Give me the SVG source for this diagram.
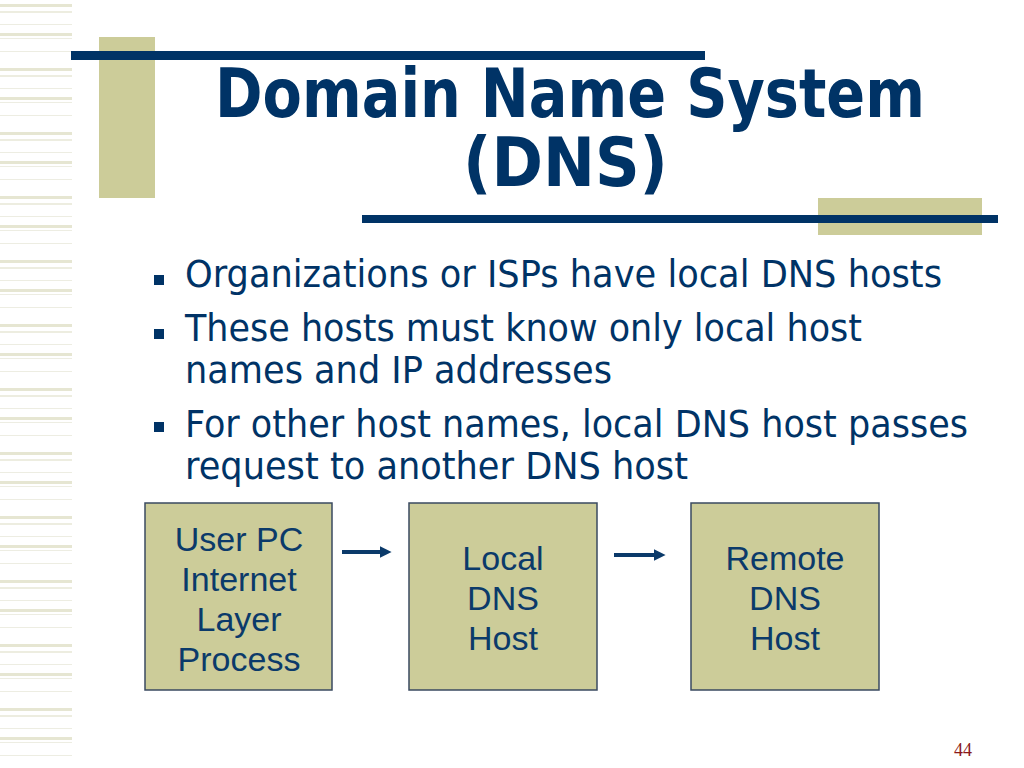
<svg xmlns="http://www.w3.org/2000/svg" width="1024" height="768" viewBox="0 0 1024 768">
<defs>
<pattern id="stripes" x="0" y="0" width="72" height="64" patternUnits="userSpaceOnUse">
<rect x="0" y="4" width="72" height="3" fill="#E6E6D2"/>
<rect x="0" y="11" width="72" height="2" fill="#EDEDE0"/>
<rect x="0" y="24" width="72" height="1" fill="#EDEDE2"/>
<rect x="0" y="33" width="72" height="3" fill="#E6E6D2"/>
<rect x="0" y="38" width="72" height="1" fill="#EDEDE2"/>
<rect x="0" y="51" width="72" height="1" fill="#EDEDE2"/>
</pattern>
<marker id="ah" viewBox="0 0 10 10" refX="2" refY="5" markerWidth="3" markerHeight="3" orient="auto" markerUnits="strokeWidth">
<path d="M0,0 L10,5 L0,10 z" fill="#0B3A6A"/>
</marker>
</defs>
<style>
.bar{fill:#003366}
.tan{fill:#CCCC99}
.title{font-family:"DejaVu Sans",sans-serif;font-weight:bold;font-size:68px;fill:#003366}
.bul{font-family:"DejaVu Sans",sans-serif;font-size:37px;fill:#003366}
.sq{fill:#003366}
.box{fill:#CCCC99;stroke:#3A4A60;stroke-width:1.5}
.bt{font-family:"Liberation Sans",Arial,sans-serif;font-size:34px;fill:#0B3A6A;text-anchor:middle}
.arr{stroke:#0B3A6A;stroke-width:4;fill:none}
</style>
<rect width="1024" height="768" fill="#FFFFFF"/>
<rect x="0" y="0" width="72" height="768" fill="url(#stripes)"/>
<g id="decor">
<rect class="tan" x="99" y="37" width="56" height="161"/>
<rect class="bar" x="71" y="51" width="634" height="9"/>
<rect class="tan" x="818" y="198" width="164" height="37"/>
<rect class="bar" x="362" y="215" width="636" height="8"/>
</g>
<g id="title">
<text class="title" x="215" y="117" textLength="710" lengthAdjust="spacingAndGlyphs">Domain Name System</text>
<text class="title" x="463" y="186" textLength="205" lengthAdjust="spacingAndGlyphs">(DNS)</text>
</g>
<g id="bullets">
<rect class="sq" x="154" y="275" width="10" height="10"/>
<text class="bul" x="185" y="287" textLength="757" lengthAdjust="spacingAndGlyphs">Organizations or ISPs have local DNS hosts</text>
<rect class="sq" x="154" y="329" width="10" height="10"/>
<text class="bul" x="185" y="341" textLength="677" lengthAdjust="spacingAndGlyphs">These hosts must know only local host</text>
<text class="bul" x="185" y="383" textLength="427" lengthAdjust="spacingAndGlyphs">names and IP addresses</text>
<rect class="sq" x="154" y="422" width="10" height="10"/>
<text class="bul" x="185" y="437" textLength="783" lengthAdjust="spacingAndGlyphs">For other host names, local DNS host passes</text>
<text class="bul" x="185" y="479" textLength="503" lengthAdjust="spacingAndGlyphs">request to another DNS host</text>
</g>
<g id="node-userpc">
<rect class="box" x="145" y="503" width="187" height="187"/>
<text class="bt" x="239" y="551">User PC</text>
<text class="bt" x="239" y="591">Internet</text>
<text class="bt" x="239" y="631">Layer</text>
<text class="bt" x="239" y="671">Process</text>
</g>
<g id="node-local">
<rect class="box" x="409" y="503" width="188" height="187"/>
<text class="bt" x="503" y="570">Local</text>
<text class="bt" x="503" y="610">DNS</text>
<text class="bt" x="503" y="650">Host</text>
</g>
<g id="node-remote">
<rect class="box" x="691" y="503" width="188" height="187"/>
<text class="bt" x="785" y="570">Remote</text>
<text class="bt" x="785" y="610">DNS</text>
<text class="bt" x="785" y="650">Host</text>
</g>
<g id="connectors">
<line class="arr" x1="342" y1="552" x2="382" y2="552" marker-end="url(#ah)"/>
<line class="arr" x1="614" y1="555" x2="656" y2="555" marker-end="url(#ah)"/>
</g>
<text x="963" y="756" font-family="Liberation Serif,serif" font-size="18" fill="#8B1A1A" text-anchor="middle">44</text>
</svg>
